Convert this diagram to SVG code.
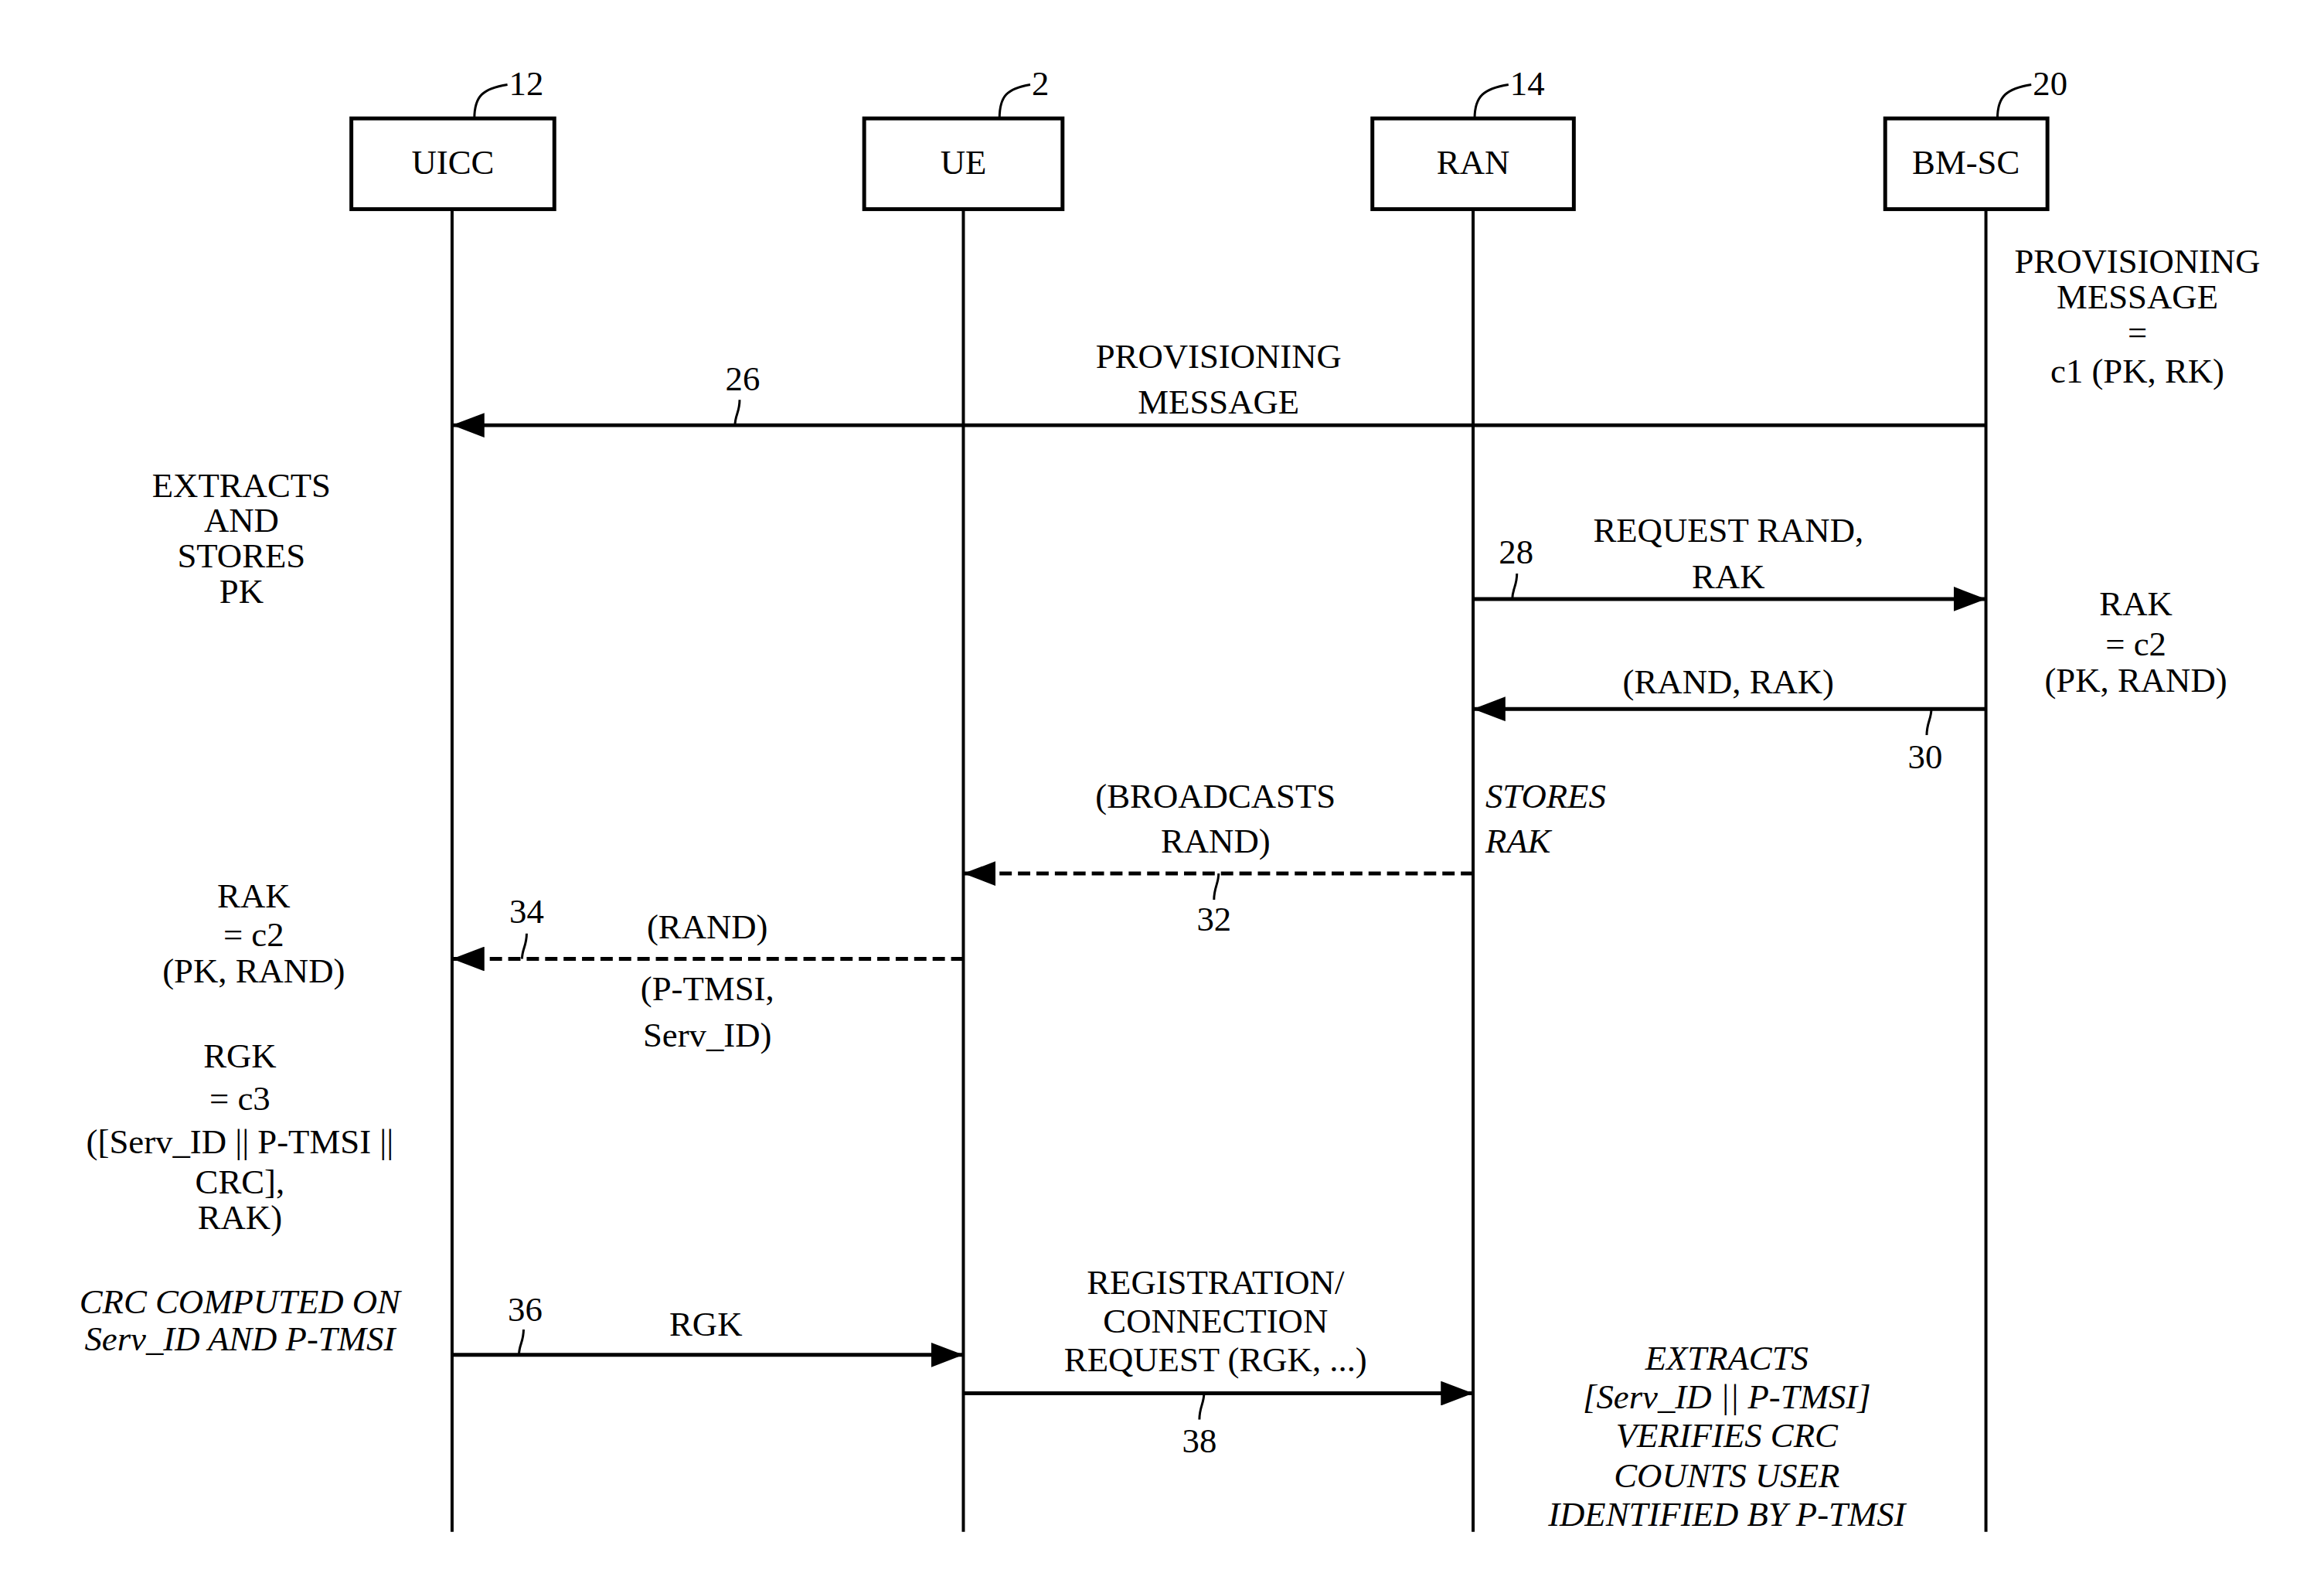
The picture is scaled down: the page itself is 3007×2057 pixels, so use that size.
<svg xmlns="http://www.w3.org/2000/svg" width="3007" height="2057" viewBox="0 0 3007 2057">
<style>
text{font-family:"Liberation Serif","Times New Roman",serif;font-size:45px;fill:#000;text-anchor:middle}
.it{font-style:italic}
.st{text-anchor:start}
.box{fill:#fff;stroke:#000;stroke-width:5}
.life{stroke:#000;stroke-width:4}
.msg{stroke:#000;stroke-width:5;fill:none}
.dash{stroke-dasharray:16 8}
.sq{stroke:#000;stroke-width:3;fill:none}
</style>
<defs>
<marker id="ah" markerUnits="userSpaceOnUse" markerWidth="44" markerHeight="32" refX="42" refY="16" orient="auto"><path d="M0,0 L42,16 L0,32 Z" fill="#000"/></marker>
</defs>
<g transform="scale(0.9948)">
<g id="UICC"><rect class="box" x="457" y="154" width="264" height="118"/><text x="589" y="226">UICC</text><line class="life" x1="588" y1="272" x2="588" y2="1992"/><path class="sq" d="M617,154 C617,125 628,115 660,110"/><text class="st" x="662" y="124">12</text></g>
<g id="UE"><rect class="box" x="1124" y="154" width="258" height="118"/><text x="1253" y="226">UE</text><line class="life" x1="1253" y1="272" x2="1253" y2="1992"/><path class="sq" d="M1300,154 C1300,125 1310,115 1340,110"/><text class="st" x="1342" y="124">2</text></g>
<g id="RAN"><rect class="box" x="1785" y="154" width="262" height="118"/><text x="1916" y="226">RAN</text><line class="life" x1="1916" y1="272" x2="1916" y2="1992"/><path class="sq" d="M1918,154 C1918,125 1930,115 1962,110"/><text class="st" x="1964" y="124">14</text></g>
<g id="BMSC"><rect class="box" x="2452" y="154" width="211" height="118"/><text x="2557" y="226">BM-SC</text><line class="life" x1="2583" y1="272" x2="2583" y2="1992"/><path class="sq" d="M2598,154 C2598,125 2610,115 2642,110"/><text class="st" x="2644" y="124">20</text></g>
<g id="connectors">
<line class="msg" x1="2583" y1="553" x2="588" y2="553" marker-end="url(#ah)"/>
<line class="msg" x1="1916" y1="779" x2="2583" y2="779" marker-end="url(#ah)"/>
<line class="msg" x1="2583" y1="922" x2="1916" y2="922" marker-end="url(#ah)"/>
<line class="msg dash" x1="1916" y1="1136" x2="1253" y2="1136" marker-end="url(#ah)"/>
<line class="msg dash" x1="1253" y1="1247" x2="588" y2="1247" marker-end="url(#ah)"/>
<line class="msg" x1="588" y1="1762" x2="1253" y2="1762" marker-end="url(#ah)"/>
<line class="msg" x1="1253" y1="1812" x2="1916" y2="1812" marker-end="url(#ah)"/>
<path class="sq" d="M956,553 C956,540 962,536 962,520"/>
<path class="sq" d="M1967,779 C1967,766 1973,762 1973,746"/>
<path class="sq" d="M2512,922 C2512,935 2506,940 2506,956"/>
<path class="sq" d="M1585,1136 C1585,1149 1579,1154 1579,1170"/>
<path class="sq" d="M679,1247 C679,1234 685,1230 685,1214"/>
<path class="sq" d="M675,1762 C675,1749 681,1745 681,1729"/>
<path class="sq" d="M1566,1812 C1566,1825 1560,1830 1560,1846"/>
</g>
<g id="labels">
<text x="1585" y="478">PROVISIONING</text><text x="1585" y="538">MESSAGE</text><text x="966" y="508">26</text>
<text x="2780" y="355">PROVISIONING</text><text x="2780" y="401">MESSAGE</text><text x="2780" y="447">=</text><text x="2780" y="498">c1 (PK, RK)</text>
<text x="314" y="646">EXTRACTS</text><text x="314" y="692">AND</text><text x="314" y="738">STORES</text><text x="314" y="784">PK</text>
<text x="2248" y="705">REQUEST RAND,</text><text x="2248" y="765">RAK</text><text x="1972" y="733">28</text>
<text x="2778" y="800">RAK</text><text x="2778" y="852">= c2</text><text x="2778" y="900">(PK, RAND)</text>
<text x="2248" y="902">(RAND, RAK)</text><text x="2504" y="999">30</text>
<text class="it st" x="1932" y="1050">STORES</text><text class="it st" x="1932" y="1109">RAK</text>
<text x="1581" y="1050">(BROADCASTS</text><text x="1581" y="1109">RAND)</text><text x="1579" y="1210">32</text>
<text x="330" y="1180">RAK</text><text x="330" y="1230">= c2</text><text x="330" y="1278">(PK, RAND)</text>
<text x="920" y="1220">(RAND)</text><text x="685" y="1200">34</text><text x="920" y="1301">(P-TMSI,</text><text x="920" y="1361">Serv_ID)</text>
<text x="312" y="1388">RGK</text><text x="312" y="1444">= c3</text><text x="312" y="1500">([Serv_ID || P-TMSI ||</text><text x="312" y="1552">CRC],</text><text x="312" y="1598">RAK)</text>
<text class="it" x="312" y="1708">CRC COMPUTED ON</text><text class="it" x="312" y="1756">Serv_ID AND P-TMSI</text>
<text x="918" y="1737">RGK</text><text x="683" y="1718">36</text>
<text x="1581" y="1683">REGISTRATION/</text><text x="1581" y="1733">CONNECTION</text><text x="1581" y="1783">REQUEST (RGK, ...)</text><text x="1560" y="1889">38</text>
<text class="it" x="2246" y="1781">EXTRACTS</text><text class="it" x="2246" y="1832">[Serv_ID || P-TMSI]</text><text class="it" x="2246" y="1882">VERIFIES CRC</text><text class="it" x="2246" y="1934">COUNTS USER</text><text class="it" x="2246" y="1984">IDENTIFIED BY P-TMSI</text>
</g>
</g>
</svg>
